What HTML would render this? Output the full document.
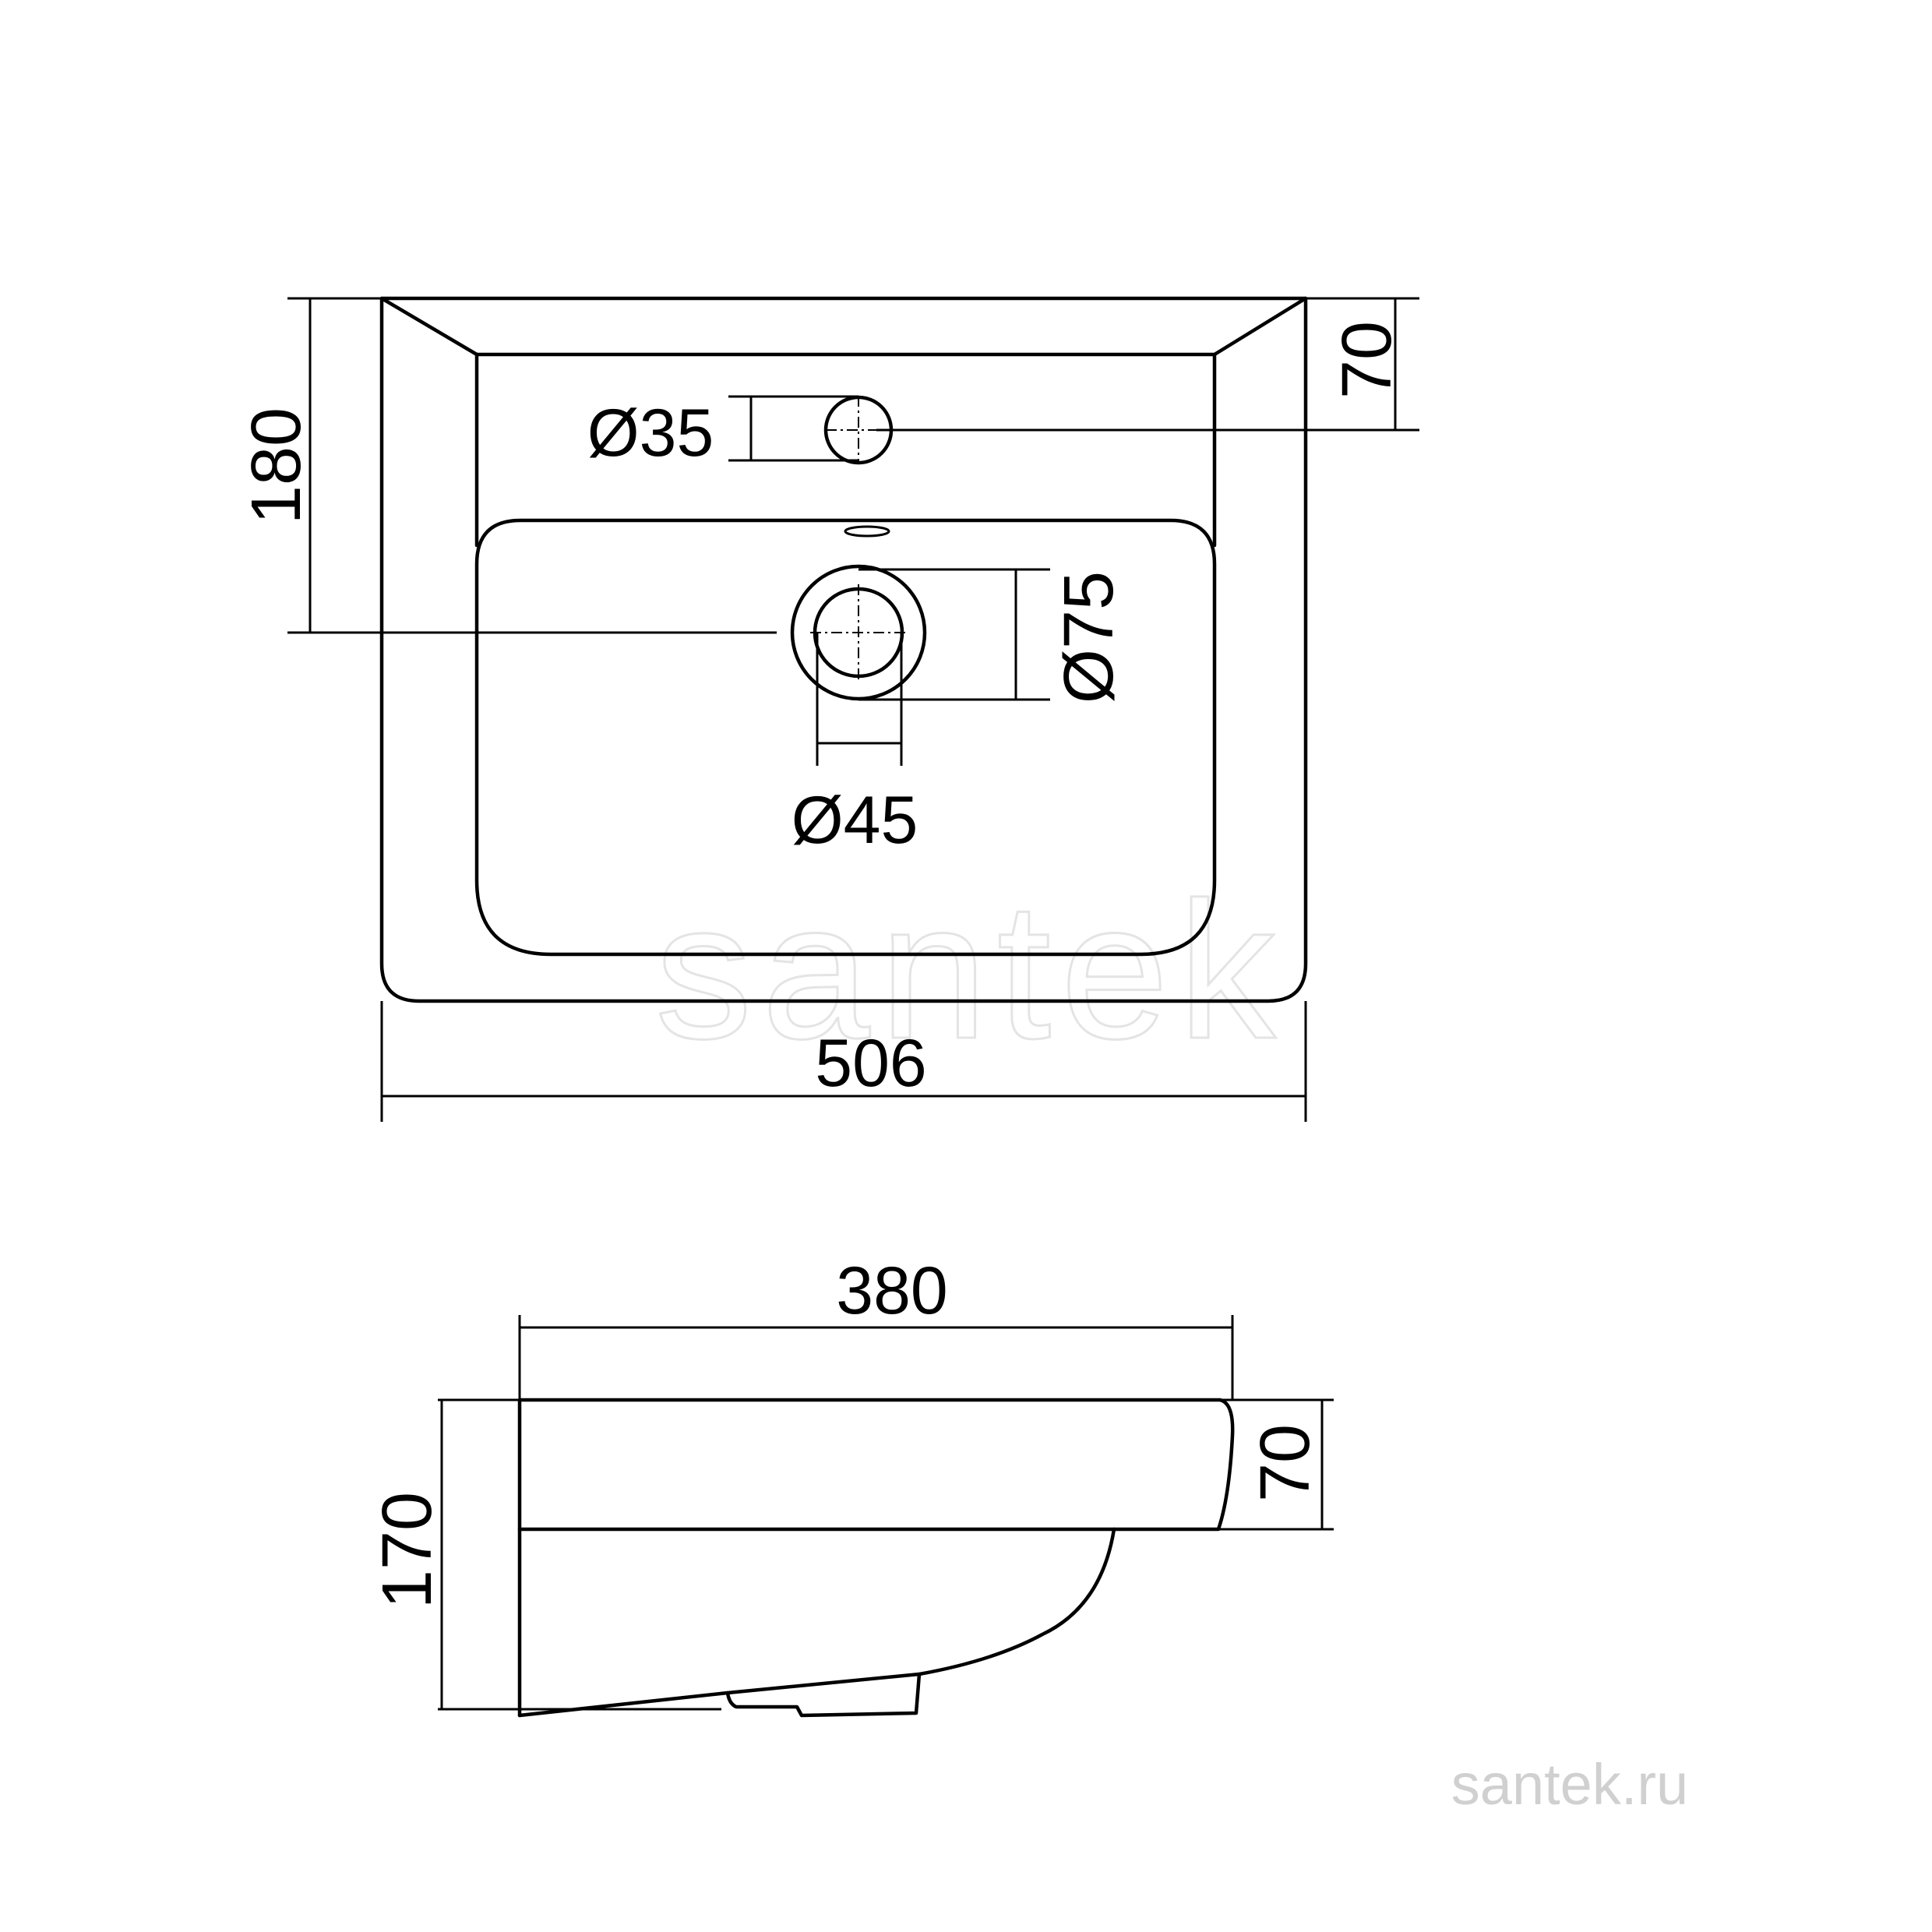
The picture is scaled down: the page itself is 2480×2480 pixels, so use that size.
<!DOCTYPE html>
<html><head><style>
html,body{margin:0;padding:0;background:#fff;}
svg{display:block;}
text{font-family:"Liberation Sans",sans-serif;fill:#000;}
</style></head><body>
<svg width="2480" height="2480" viewBox="0 0 2480 2480" xmlns="http://www.w3.org/2000/svg">
<!-- watermark -->
<text x="1245" y="1332" text-anchor="middle" font-size="250" letter-spacing="12" style="fill:none;stroke:#e4e4e4;stroke-width:3">santek</text>
<g fill="none" stroke="#000" stroke-linecap="round" stroke-linejoin="round">
<path d="M490 383 L1676 383 L1676 1237 Q1676 1285 1628 1285 L538 1285 Q490 1285 490 1237 Z" stroke-width="4.5"/>
<path d="M490 383 L612 455 L1559 455 L1676 383" stroke-width="4.5"/>
<line x1="612" y1="455" x2="612" y2="700" stroke-width="4.5"/>
<line x1="1559" y1="455" x2="1559" y2="700" stroke-width="4.5"/>
<path d="M668 668 L1503 668 Q1559 668 1559 724 L1559 1130 Q1559 1225 1464 1225 L707 1225 Q612 1225 612 1130 L612 724 Q612 668 668 668 Z" stroke-width="4.5"/>
<ellipse cx="1113" cy="682" rx="28" ry="6" stroke-width="3"/>
<circle cx="1102" cy="552" r="42" stroke-width="4.5"/>
<circle cx="1102" cy="812" r="85" stroke-width="4.5"/>
<circle cx="1102" cy="812" r="56" stroke-width="4.5"/>
</g>
<g fill="none" stroke="#000" stroke-width="3">
<line x1="369" y1="383" x2="490" y2="383"/>
<line x1="369" y1="812" x2="997" y2="812"/>
<line x1="398" y1="383" x2="398" y2="812"/>
<line x1="1676" y1="383" x2="1822" y2="383"/>
<line x1="1125" y1="552" x2="1822" y2="552"/>
<line x1="1791" y1="383" x2="1791" y2="552"/>
<line x1="935" y1="509" x2="1102" y2="509"/>
<line x1="935" y1="591" x2="1102" y2="591"/>
<line x1="964" y1="509" x2="964" y2="591"/>
<line x1="1102" y1="731" x2="1348" y2="731"/>
<line x1="1102" y1="898" x2="1348" y2="898"/>
<line x1="1304" y1="731" x2="1304" y2="898"/>
<line x1="1049" y1="812" x2="1049" y2="983"/>
<line x1="1157" y1="812" x2="1157" y2="983"/>
<line x1="1049" y1="954" x2="1157" y2="954"/>
<line x1="490" y1="1285" x2="490" y2="1440"/>
<line x1="1676" y1="1285" x2="1676" y2="1440"/>
<line x1="490" y1="1407" x2="1676" y2="1407"/>
</g>
<g stroke="#000" stroke-width="2" stroke-dasharray="14 5 3 5">
<line x1="1060" y1="552" x2="1144" y2="552"/>
<line x1="1102" y1="508" x2="1102" y2="596"/>
<line x1="1040" y1="812" x2="1164" y2="812"/>
<line x1="1102" y1="750" x2="1102" y2="874"/>
</g>
<text x="0" y="0" font-size="90" text-anchor="middle" transform="translate(385 598) rotate(-90)">180</text>
<text x="0" y="0" font-size="90" text-anchor="middle" transform="translate(1785 462) rotate(-90)">70</text>
<text x="835" y="585" font-size="86" text-anchor="middle">Ø35</text>
<text x="0" y="0" font-size="90" text-anchor="middle" transform="translate(1428 818) rotate(-90)">Ø75</text>
<text x="1097" y="1082" font-size="86" text-anchor="middle">Ø45</text>
<text x="1118" y="1394" font-size="86" text-anchor="middle">506</text>
<g fill="none" stroke="#000" stroke-linecap="round" stroke-linejoin="round" stroke-width="4.5">
<path d="M667 1797 L1566 1797 Q1584 1801 1582 1843 Q1578 1922 1564 1963 L667 1963"/>
<line x1="667" y1="1797" x2="667" y2="2202"/>
<path d="M1430 1963 Q1414 2062 1338 2098 Q1275 2132 1180 2149 Q1046 2162 934 2173 L667 2202"/>
<path d="M1180 2149 L1176 2199 L1029 2202 L1023 2191 L945 2191 Q936 2187 934 2173"/>
</g>
<g fill="none" stroke="#000" stroke-width="3">
<line x1="562" y1="1797" x2="1712" y2="1797"/>
<line x1="1564" y1="1963" x2="1712" y2="1963"/>
<line x1="567" y1="1797" x2="567" y2="2194"/>
<line x1="562" y1="2194" x2="926" y2="2194"/>
<line x1="1697" y1="1797" x2="1697" y2="1963"/>
<line x1="667" y1="1688" x2="667" y2="1797"/>
<line x1="1582" y1="1688" x2="1582" y2="1797"/>
<line x1="667" y1="1704" x2="1582" y2="1704"/>
</g>
<text x="1145" y="1686" font-size="86" text-anchor="middle">380</text>
<text x="0" y="0" font-size="90" text-anchor="middle" transform="translate(553 1990) rotate(-90)">170</text>
<text x="0" y="0" font-size="90" text-anchor="middle" transform="translate(1680 1878) rotate(-90)">70</text>
<text x="2015" y="2316" font-size="74" text-anchor="middle" style="fill:#d0d0d0">santek.ru</text>
</svg>
</body></html>
